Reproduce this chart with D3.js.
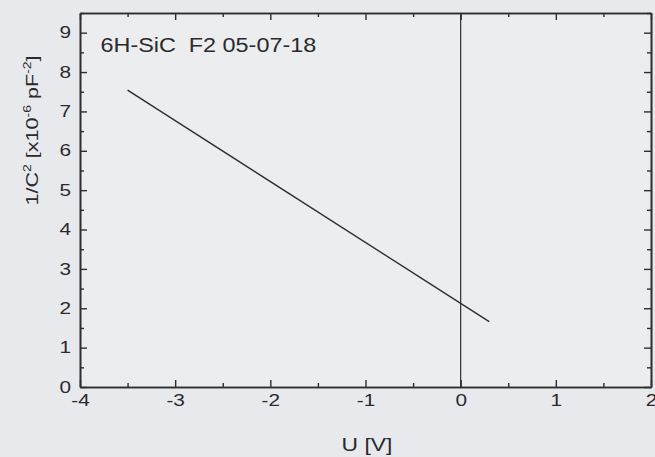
<!DOCTYPE html>
<html>
<head>
<meta charset="utf-8">
<script src="https://cdn.jsdelivr.net/npm/d3@7"></script>
<style>
  html, body { margin: 0; padding: 0; background: #e8e9ec; }
  svg { display: block; font-family: "Liberation Sans", Arial, sans-serif; }
</style>
</head>
<body>
<svg id="chart" width="655" height="457"></svg>
<script>
// Mott-Schottky plot: 1/C^2 versus bias voltage
const voltage = [-3.5, 0.3];          // U [V]
const invCapSq = [7.54, 1.66];        // 1/C^2 [x10^-6 pF^-2]
const xMajorTicks = [-4, -3, -2, -1, 0, 1, 2];
const xMinorTicks = [-3.5, -2.5, -1.5, -0.5, 0.5, 1.5];
const yMajorTicks = [0, 1, 2, 3, 4, 5, 6, 7, 8, 9];
const yMinorTicks = [0.5, 1.5, 2.5, 3.5, 4.5, 5.5, 6.5, 7.5, 8.5, 9.5];
const sampleLabel = "6H-SiC  F2 05-07-18";

const W = 655, H = 457;
const margin = { top: 13, right: 4, bottom: 70, left: 80 };
const iw = W - margin.left - margin.right;
const ih = H - margin.top - margin.bottom;

// the lettering is set wide: horizontal stretch applied to Liberation Sans
const WIDE = 1.3;

const svg = d3.select("#chart");
const g = svg.append("g").attr("transform", `translate(${margin.left},${margin.top})`);

const x = d3.scaleLinear().domain([-4, 2]).range([0, iw]);
const y = d3.scaleLinear().domain([0, 9.5]).range([ih, 0]);

const ink = "#2e2e31";
const textInk = "#2a2a2d";

g.append("rect").attr("width", iw).attr("height", ih).attr("fill", "#ecedef");

// zero-bias reference line
g.append("line")
  .attr("x1", x(0)).attr("x2", x(0))
  .attr("y1", 0).attr("y2", ih)
  .attr("stroke", ink).attr("stroke-width", 1.2);

// data line
const pts = voltage.map((v, i) => [v, invCapSq[i]]);
g.append("path")
  .datum(pts)
  .attr("fill", "none")
  .attr("stroke", ink)
  .attr("stroke-width", 1.4)
  .attr("d", d3.line().x(d => x(d[0])).y(d => y(d[1])));

function styleAxis(sel) {
  sel.selectAll("path.domain").attr("stroke", ink).attr("stroke-width", 1.6);
  sel.selectAll(".tick line").attr("stroke", ink).attr("stroke-width", 1.4);
  sel.selectAll("text").attr("fill", textInk).attr("font-size", 16)
    .attr("font-family", "'Liberation Sans', Arial, sans-serif");
}
const plain = d => d.toString();

// bottom
const bottom = g.append("g").attr("transform", `translate(0,${ih})`)
  .call(d3.axisBottom(x).tickValues(xMajorTicks).tickSizeInner(-7).tickSizeOuter(0).tickPadding(8).tickFormat(plain))
  .call(styleAxis);
bottom.selectAll(".tick text").attr("transform", `scale(${WIDE},1)`);
g.append("g").attr("transform", `translate(0,${ih})`)
  .call(d3.axisBottom(x).tickValues(xMinorTicks).tickSizeInner(-4).tickSizeOuter(0).tickFormat(""))
  .call(styleAxis);
// top (mirror)
g.append("g")
  .call(d3.axisTop(x).tickValues(xMajorTicks).tickSizeInner(-7).tickSizeOuter(0).tickFormat(""))
  .call(styleAxis);
g.append("g")
  .call(d3.axisTop(x).tickValues(xMinorTicks).tickSizeInner(-4).tickSizeOuter(0).tickFormat(""))
  .call(styleAxis);
// left
const left = g.append("g")
  .call(d3.axisLeft(y).tickValues(yMajorTicks).tickSizeInner(-7).tickSizeOuter(0).tickPadding(9).tickFormat(plain))
  .call(styleAxis);
left.selectAll(".tick text").attr("x", -9 / WIDE).attr("transform", `scale(${WIDE},1)`);
g.append("g")
  .call(d3.axisLeft(y).tickValues(yMinorTicks).tickSizeInner(-4).tickSizeOuter(0).tickFormat(""))
  .call(styleAxis);
// right (mirror)
g.append("g").attr("transform", `translate(${iw},0)`)
  .call(d3.axisRight(y).tickValues(yMajorTicks).tickSizeInner(-7).tickSizeOuter(0).tickFormat(""))
  .call(styleAxis);
g.append("g").attr("transform", `translate(${iw},0)`)
  .call(d3.axisRight(y).tickValues(yMinorTicks).tickSizeInner(-4).tickSizeOuter(0).tickFormat(""))
  .call(styleAxis);

// sample label
svg.append("text")
  .attr("transform", "translate(100.5,51.7) scale(1.2,1)")
  .attr("font-size", 19.5).attr("fill", textInk)
  .attr("xml:space", "preserve")
  .style("white-space", "pre")
  .text(sampleLabel);

// x-axis title
svg.append("text")
  .attr("transform", "translate(367,450.5) scale(1.27,1)")
  .attr("text-anchor", "middle")
  .attr("font-size", 18).attr("fill", textInk)
  .text("U [V]");

// y-axis title with superscripts
const yt = svg.append("text")
  .attr("transform", "translate(37.5,130.5) rotate(-90) scale(1.27,1)")
  .attr("text-anchor", "middle")
  .attr("font-size", 17).attr("fill", textInk);
yt.append("tspan").text("1/C");
yt.append("tspan").attr("dy", -7).attr("font-size", 11).text("2");
yt.append("tspan").attr("dy", 7).text(" [x10");
yt.append("tspan").attr("dy", -7).attr("font-size", 11).text("-6");
yt.append("tspan").attr("dy", 7).text(" pF");
yt.append("tspan").attr("dy", -7).attr("font-size", 11).text("-2");
yt.append("tspan").attr("dy", 7).text("]");
</script>
</body>
</html>
